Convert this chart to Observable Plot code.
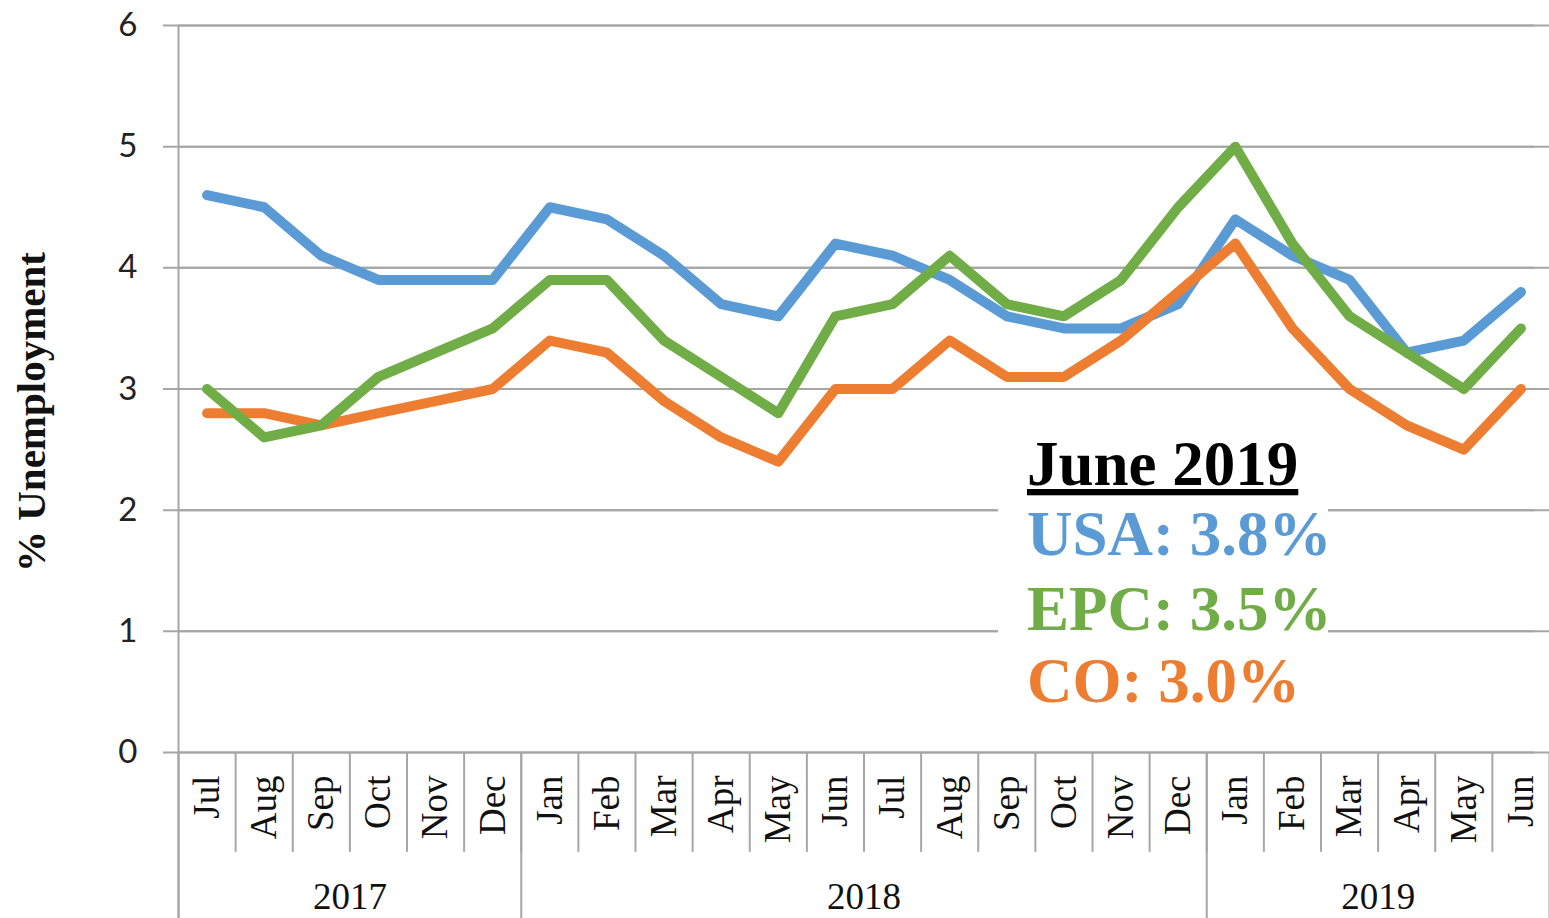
<!DOCTYPE html>
<html><head><meta charset="utf-8">
<script src="https://cdn.jsdelivr.net/npm/d3@7"></script>
<script src="https://cdn.jsdelivr.net/npm/@observablehq/plot@0.6"></script>
<style>
body{margin:0;background:#fff}
#wrap{position:relative;width:1549px;height:918px;overflow:hidden;background:#fff}
#wrap svg.overlay{position:absolute;left:0;top:0;pointer-events:none}
</style></head><body><div id="wrap"></div>
<script>
// ---- data ----
const months = ["Jul","Aug","Sep","Oct","Nov","Dec",
  "Jan","Feb","Mar","Apr","May","Jun","Jul","Aug","Sep","Oct","Nov","Dec",
  "Jan","Feb","Mar","Apr","May","Jun"];
const yearLabels = ["2017","2018","2019"];
const yearStarts = [0, 6, 18];
const yearEnds = [6, 18, 24];
const usa = [4.6,4.5,4.1,3.9,3.9,3.9, 4.5,4.4,4.1,3.7,3.6,4.2,4.1,3.9,3.6,3.5,3.5,3.7, 4.4,4.1,3.9,3.3,3.4,3.8];
const epc = [3.0,2.6,2.7,3.1,3.3,3.5, 3.9,3.9,3.4,3.1,2.8,3.6,3.7,4.1,3.7,3.6,3.9,4.5, 5.0,4.2,3.6,3.3,3.0,3.5];
const co  = [2.8,2.8,2.7,2.8,2.9,3.0, 3.4,3.3,2.9,2.6,2.4,3.0,3.0,3.4,3.1,3.1,3.4,3.8, 4.2,3.5,3.0,2.7,2.5,3.0];
const yTicks = [0,1,2,3,4,5,6];
const seriesNames = ["USA","EPC","CO"];
const legendTitle = "June 2019";
const yTitle = "% Unemployment";

// ---- styles ----
const colors = {USA:"#5B9BD5", EPC:"#70AD47", CO:"#ED7D31"};
const gridColor = "#a6a6a6";
const serif = "'Liberation Serif','Times New Roman',serif";

const seriesValues = {USA: usa, EPC: epc, CO: co};
const idx = months.map((m, i) => i);
const rows = s => seriesValues[s].map((v, i) => ({i, v}));
const monthSeps = idx.slice(1).map(i => i - 0.5);
const yearSeps = yearStarts.map(s => s - 0.5).concat([months.length - 0.5]);
const years = yearLabels.map((y, k) => ({label: y, c: (yearStarts[k] + yearEnds[k]) / 2 - 0.5}));

const chart = Plot.plot({
  width: 1549, height: 918,
  marginLeft: 178, marginRight: 0, marginTop: 25, marginBottom: 166,
  x: {domain: [-0.5, months.length - 0.5], axis: null},
  y: {domain: [0, 6], axis: null},
  style: {fontFamily: serif, background: "white", color: "black", overflow: "visible"},
  marks: [
    Plot.ruleY(yTicks, {y: d => d, stroke: gridColor, strokeWidth: 2}),
    Plot.ruleY(yTicks, {y: d => d, stroke: gridColor, strokeWidth: 2, dx: -15}),
    Plot.ruleX([-0.5], {x: d => d, y1: 6, y2: -1.5, stroke: gridColor, strokeWidth: 2}),
    Plot.ruleX(monthSeps, {x: d => d, y1: 0, y2: -0.824, stroke: gridColor, strokeWidth: 2}),
    Plot.ruleX(yearSeps, {x: d => d, y1: 0, y2: -1.5, stroke: gridColor, strokeWidth: 2}),
    Plot.text(yTicks, {y: d => d, text: d => String(d), frameAnchor: "left", dx: -41,
      textAnchor: "end", fontFamily: "Lato", fontSize: 33, fill: "#222"}),
    Plot.text(idx, {x: d => d, y: 0, text: d => months[d], rotate: -90, textAnchor: "end",
      lineAnchor: "middle", dy: 23, fontSize: 37, fill: "#111"}),
    Plot.text(years, {x: "c", y: 0, text: "label", dy: 145, lineAnchor: "middle", fontSize: 37, fill: "#111"}),
    Plot.text([yTitle], {text: d => d, frameAnchor: "left", textAnchor: "middle", dx: -147, dy: 23, rotate: -90,
      fontWeight: "bold", fontSize: 41, fill: "#111"}),
    ...["USA","CO","EPC"].map(s => Plot.line(rows(s), {x: "i", y: "v", stroke: colors[s],
      strokeWidth: 10, strokeLinecap: "round", strokeLinejoin: "round"}))
  ]
});
const wrap = document.getElementById("wrap");
wrap.appendChild(chart);

// ---- in-chart legend box ----
const ov = d3.select(wrap).append("svg").attr("class", "overlay")
  .attr("width", 1549).attr("height", 918);
ov.append("rect").attr("x", 998).attr("y", 432).attr("width", 330).attr("height", 278).attr("fill", "white");
const lg = ov.append("g").attr("font-family", serif).attr("font-weight", "bold").attr("font-size", 63);
lg.append("text").attr("x", 1027).attr("y", 485).attr("fill", "#000")
  .style("text-decoration", "underline").text(legendTitle);
const baselines = [555, 630, 702];
seriesNames.forEach((s, k) => {
  const vals = seriesValues[s];
  lg.append("text").attr("x", 1027).attr("y", baselines[k]).attr("fill", colors[s])
    .text(`${s}: ${vals[vals.length - 1].toFixed(1)}%`);
});
</script></body></html>
